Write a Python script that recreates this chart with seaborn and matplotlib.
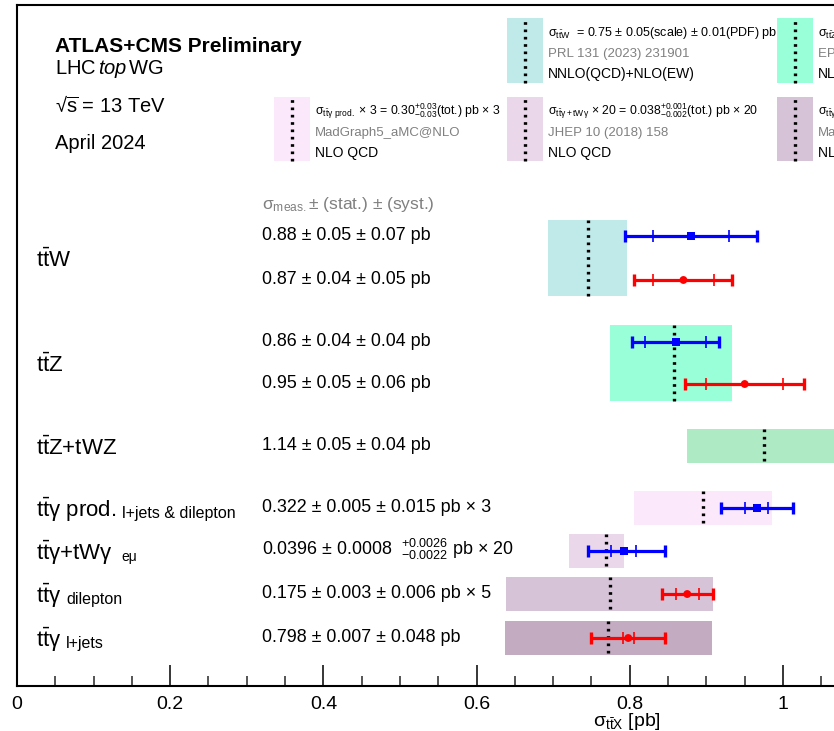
import numpy as np
import pandas as pd
import matplotlib
matplotlib.use('Agg')
import matplotlib.pyplot as plt
import seaborn as sns
from matplotlib.patches import Rectangle
from matplotlib.lines import Line2D

# ---------------- data ----------------
group_labels = [r'$\mathrm{t\bar{t}}$W', r'$\mathrm{t\bar{t}}$Z', r'$\mathrm{t\bar{t}}$Z+tWZ',
                r'$\mathrm{t\bar{t}}$γ prod.', r'$\mathrm{t\bar{t}}$γ+tWγ',
                r'$\mathrm{t\bar{t}}$γ', r'$\mathrm{t\bar{t}}$γ']
group_sublabels = ['', '', '', 'l+jets & dilepton', 'eμ', 'dilepton', 'l+jets']
theory_center = [0.745, 0.858, 0.975, 0.896, 0.769, 0.774, 0.772]
theory_lo = [0.693, 0.774, 0.875, 0.8055, 0.720, 0.639, 0.6375]
theory_hi = [0.796, 0.934, 1.075, 0.9856, 0.793, 0.909, 0.907]
theory_colors = ['#c0eaea', '#99ffd8', '#aeebc5', '#fbe9fb', '#ead7ea', '#d6c3d7', '#c3abc2']

meas_group = [0, 0, 1, 1, 2, 3, 4, 5, 6]
meas_exp = ['ATLAS', 'CMS', 'ATLAS', 'CMS', 'CMS', 'ATLAS', 'ATLAS', 'CMS', 'CMS']
meas_value = [0.88, 0.87, 0.86, 0.95, 1.14, 0.966, 0.792, 0.875, 0.798]
meas_stat = [0.05, 0.04, 0.04, 0.05, 0.05, 0.015, 0.016, 0.015, 0.007]
meas_tot_lo = [0.086, 0.064, 0.057, 0.078, 0.064, 0.047, 0.047, 0.0335, 0.0485]
meas_tot_hi = [0.086, 0.064, 0.057, 0.078, 0.064, 0.047, 0.054, 0.0335, 0.0485]
meas_text = ['0.88 ± 0.05 ± 0.07 pb', '0.87 ± 0.04 ± 0.05 pb',
             '0.86 ± 0.04 ± 0.04 pb', '0.95 ± 0.05 ± 0.06 pb',
             '1.14 ± 0.05 ± 0.04 pb', '0.322 ± 0.005 ± 0.015 pb × 3',
             r'0.0396 ± 0.0008  $^{+0.0026}_{-0.0022}$ pb × 20',
             '0.175 ± 0.003 ± 0.006 pb × 5', '0.798 ± 0.007 ± 0.048 pb']

legend_entries = [
    # (row, column, group index, lines)
    (0, 1, 0, [r'σ$_{\mathrm{t\bar{t}W}}$  = 0.75 ± 0.05(scale) ± 0.01(PDF) pb',
               'PRL 131 (2023) 231901', 'NNLO(QCD)+NLO(EW)']),
    (0, 2, 1, [r'σ$_{\mathrm{t\bar{t}Z}}$ = 0.86 $^{+0.07}_{-0.08}$(scale) ± 0.03(PDF) pb',
               'EPJC 79 (2019) 249', 'NLO+NNLL(QCD)+NLO(EW)']),
    (1, 0, 3, [r'σ$_{\mathrm{t\bar{t}γ\ prod.}}$ × 3 = 0.30$^{+0.03}_{-0.03}$(tot.) pb × 3',
               'MadGraph5_aMC@NLO', 'NLO QCD']),
    (1, 1, 4, [r'σ$_{\mathrm{t\bar{t}γ+tWγ}}$ × 20 = 0.038$^{+0.001}_{-0.002}$(tot.) pb × 20',
               'JHEP 10 (2018) 158', 'NLO QCD']),
    (1, 2, 5, [r'σ$_{\mathrm{t\bar{t}γ}}$ × 5 = 0.155$^{+0.01}_{-0.01}$(tot.) pb × 5',
               'MadGraph5_aMC@NLO', 'NLO QCD']),
]

# ---------------- layout ----------------
W, H = 834, 731
row_pos = [5.372, 6.395, 7.837, 8.814, 10.256, 11.698, 12.698, 13.698, 14.721]
single_half = 0.40
double_half = 0.895

sns.set_theme(style='white')
plt.rcParams['font.family'] = ['Liberation Sans', 'DejaVu Sans']
plt.rcParams['mathtext.fontset'] = 'custom'
plt.rcParams['mathtext.rm'] = 'Liberation Sans'
plt.rcParams['mathtext.it'] = 'Liberation Sans:italic'
plt.rcParams['mathtext.bf'] = 'Liberation Sans:bold'
plt.rcParams['mathtext.sf'] = 'Liberation Sans'
plt.rcParams['text.color'] = 'black'

fig = plt.figure(figsize=(W / 100, H / 100), dpi=100)
ax = fig.add_axes([17 / W, 45 / H, (W - 17) / W, 681 / H])


def ftxt(xp, yp, s, **kw):
    return fig.text(xp / W, 1 - yp / H, s, va='baseline', **kw)


# theory bands
for g in range(len(group_labels)):
    ys = [row_pos[i] for i, gg in enumerate(meas_group) if gg == g]
    yc = float(np.mean(ys))
    half = double_half if len(ys) > 1 else single_half
    ax.barh(y=yc, width=theory_hi[g] - theory_lo[g], left=theory_lo[g],
            height=2 * half, color=theory_colors[g], linewidth=0, zorder=1)
    ax.vlines(theory_center[g], yc - half, yc + half, colors='black',
              linestyles=(0, (0.8, 1.4)), linewidth=2.4, zorder=2)

# measurements
df = pd.DataFrame({'value': meas_value, 'y': row_pos, 'exp': meas_exp})
colors = {'ATLAS': '#0000ff', 'CMS': '#ff0000'}
for i in range(len(meas_value)):
    c = colors[meas_exp[i]]
    ax.errorbar(meas_value[i], row_pos[i],
                xerr=[[meas_tot_lo[i]], [meas_tot_hi[i]]], fmt='none',
                ecolor=c, elinewidth=2.3, capsize=4, capthick=2.4, zorder=3)
    ax.errorbar(meas_value[i], row_pos[i], xerr=meas_stat[i], fmt='none',
                ecolor=c, elinewidth=0, capsize=4, capthick=1.2, zorder=3)
sns.scatterplot(data=df, x='value', y='y', hue='exp', style='exp',
                markers={'ATLAS': 's', 'CMS': 'o'}, palette=colors,
                s=32, linewidth=0, legend=False, ax=ax, zorder=4)

# measurement texts
x_text = (262 - 17) / 766
for i, t in enumerate(meas_text):
    ax.annotate(t, xy=(x_text, row_pos[i]), xytext=(0, -3.0),
                textcoords='offset points', va='baseline', ha='left',
                fontsize=12.9)
ax.annotate(r'σ$_{\mathrm{meas.}}$± (stat.) ± (syst.)', xy=(x_text, (205 - 5) / 43),
            xytext=(0, -3.0), textcoords='offset points', va='baseline',
            ha='left', fontsize=12.5, color='#808080')

# group labels
x_lab = (36 - 17) / 766
sub_x = [0, 0, 0, 122, 121, 66, 66]
sub_size = [11.5, 11.5, 11.5, 11.5, 10, 11.5, 11.5]
for g, lab in enumerate(group_labels):
    ys = [row_pos[i] for i, gg in enumerate(meas_group) if gg == g]
    yc = float(np.mean(ys))
    ax.annotate(lab, xy=(x_lab, yc), xytext=(0, -6.5), textcoords='offset points',
                va='baseline', ha='left', fontsize=16)
    if group_sublabels[g]:
        ax.annotate(group_sublabels[g], xy=((sub_x[g] - 17) / 766, yc),
                    xytext=(0, -7.0), textcoords='offset points',
                    va='baseline', ha='left', fontsize=sub_size[g])

# axes styling
ax.set_xlim(0, (W - 17) / 766)
ax.set_ylim(681 / 43, 0)
ax.set_yticks([])
ax.set_xticks(np.arange(0, 1.01, 0.2))
ax.set_xticklabels(['0', '0.2', '0.4', '0.6', '0.8', '1'])
ax.set_xticks(np.arange(0, 1.07, 0.05), minor=True)
ax.tick_params(axis='x', which='major', direction='in', length=15, width=1.1,
               labelsize=14, pad=7, colors='black', bottom=True)
ax.tick_params(axis='x', which='minor', direction='in', length=7.5, width=1.1,
               bottom=True)
ax.set_xlabel('')
ax.set_ylabel('')
for side in ['left', 'top', 'bottom']:
    ax.spines[side].set_visible(True)
    ax.spines[side].set_color('black')
    ax.spines[side].set_linewidth(1.5)
ax.spines['right'].set_visible(False)
ax.set_facecolor('white')

# header
ftxt(55, 52, 'ATLAS+CMS Preliminary', fontsize=15, fontweight='bold')
ftxt(55, 74, r'LHC$\,\mathit{top}\,$WG', fontsize=14.5)
ftxt(55, 113, r'√$\overline{\mathrm{s}}$ = 13 TeV', fontsize=14.5)
ftxt(55, 149, 'April 2024', fontsize=14.5)

# theory legend boxes
box_x = [274, 507, 777]
box_y = [(18, 83), (97, 161)]
line1_size = [9.0, 8.8]
for r, ccol, g, lines in legend_entries:
    x0 = box_x[ccol]
    y0, y1 = box_y[r]
    fig.add_artist(Rectangle((x0 / W, 1 - y1 / H), 36 / W, (y1 - y0) / H,
                             transform=fig.transFigure, facecolor=theory_colors[g],
                             edgecolor='none', zorder=1))
    fig.add_artist(Line2D([(x0 + 18) / W] * 2, [1 - y1 / H, 1 - y0 / H],
                          transform=fig.transFigure, color='black',
                          linestyle=(0, (0.8, 1.4)), linewidth=2.4, zorder=2))
    ftxt(x0 + 41, y0 + 18, lines[0], fontsize=line1_size[r])
    ftxt(x0 + 41, y0 + 39, lines[1], fontsize=9.5, color='#808080')
    ftxt(x0 + 41, y0 + 60, lines[2], fontsize=10)

# x-axis title
ftxt(593, 726, r'σ$_{\mathrm{t\bar{t}X}}$ [pb]', fontsize=14)

fig.savefig('out.png', dpi=100)
